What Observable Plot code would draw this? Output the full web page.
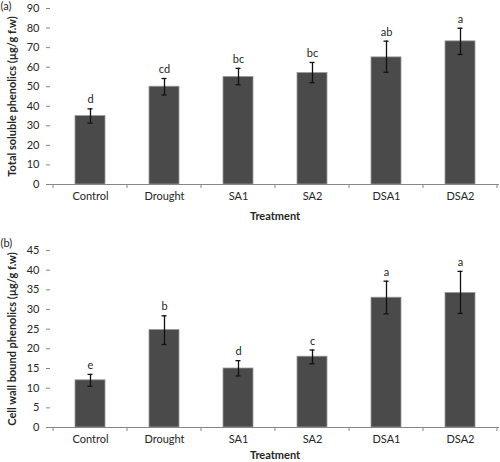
<!DOCTYPE html>
<html>
<head>
<meta charset="utf-8">
<script src="https://cdn.jsdelivr.net/npm/d3@7"></script>
<script src="https://cdn.jsdelivr.net/npm/@observablehq/plot@0.6"></script>
<style>
  body { margin: 0; background: #fff; }
  #chart { width: 500px; }
  #chart svg { display: block; }
</style>
</head>
<body>
<div id="chart"></div>
<script>
const treatments = ["Control", "Drought", "SA1", "SA2", "DSA1", "DSA2"];

// Panel (a): Total soluble phenolics
const solubleMean = [35, 50, 55, 57, 65, 73.2];
const solubleLow  = [31.4, 45.8, 51, 52.1, 57.4, 66.5];
const solubleHigh = [38.7, 54.2, 59.4, 62.4, 73.3, 79.9];
const solubleLetters = ["d", "cd", "bc", "bc", "ab", "a"];
const solubleTicks = [0, 10, 20, 30, 40, 50, 60, 70, 80, 90];

// Panel (b): Cell wall bound phenolics
const wallMean = [12, 24.8, 15, 18, 33, 34.2];
const wallLow  = [10.5, 21.1, 13.1, 16.2, 28.9, 29];
const wallHigh = [13.5, 28.4, 17, 19.7, 37.2, 39.7];
const wallLetters = ["e", "b", "d", "c", "a", "a"];
const wallTicks = [0, 5, 10, 15, 20, 25, 30, 35, 40, 45];

const FONT = "Lato, 'Liberation Sans', sans-serif";
const AXIS = "#878787";
const TXT = "#262626";

function panel({tag, ylabel, mean, low, high, letters, ticks, ymax, height, marginTop, marginBottom, tagDy, xlabDy}) {
  const rows = treatments.map((t, i) => ({t, v: mean[i], lo: low[i], hi: high[i], L: letters[i]}));
  const plot = Plot.plot({
    width: 500,
    height,
    marginLeft: 50,
    marginRight: 1,
    marginTop,
    marginBottom,
    style: {fontFamily: FONT, fontSize: "11px", color: TXT, background: "#fff"},
    x: {domain: treatments, paddingInner: 0.6, paddingOuter: 0.3, label: null},
    y: {domain: [0, ymax], label: null},
    marks: [
      Plot.barY(rows, {x: "t", y: "v", fill: "#4a4a4a", stroke: "#9a9a9a", strokeWidth: 0.8}),
      Plot.ruleX(rows, {x: "t", y1: "lo", y2: "hi", stroke: "#111", strokeWidth: 1.3}),
      Plot.tickY(rows, {x: "t", y: "lo", stroke: "#111", strokeWidth: 1.3, insetLeft: 12.5, insetRight: 12.5}),
      Plot.tickY(rows, {x: "t", y: "hi", stroke: "#111", strokeWidth: 1.3, insetLeft: 12.5, insetRight: 12.5}),
      Plot.text(rows, {x: "t", y: "hi", text: "L", dy: -9, fontSize: 11, fill: TXT}),
      Plot.axisY({ticks, tickSize: 4, tickPadding: 7, stroke: AXIS, fill: TXT, label: null, fontSize: 11}),
      Plot.ruleX([0], {frameAnchor: "left", stroke: AXIS}),
      Plot.ruleY([0], {stroke: AXIS}),
      Plot.axisX({tickSize: 0, tickPadding: 8, fill: TXT, label: null, fontSize: 11}),
      Plot.text([ylabel], {frameAnchor: "left", textAnchor: "middle", lineAnchor: "middle", rotate: -90, dx: -38, fontWeight: "bold", fontSize: 11, fill: TXT}),
      Plot.text(["Treatment"], {frameAnchor: "bottom", lineAnchor: "middle", dy: xlabDy, fontWeight: "bold", fontSize: 11, fill: TXT}),
      Plot.text([tag], {frameAnchor: "top-left", textAnchor: "start", lineAnchor: "middle", dx: -50, dy: tagDy, fontSize: 11, fill: TXT})
    ]
  });
  // boundary tick marks on the category axis, positioned from the x scale
  const xs = plot.scale("x");
  const ys = plot.scale("y");
  const y0 = ys.apply(0);
  const bounds = treatments.map(t => xs.apply(t) + xs.bandwidth / 2 + xs.step / 2);
  bounds.unshift(xs.apply(treatments[0]) + xs.bandwidth / 2 - xs.step / 2);
  const g = d3.select(plot).append("g").attr("stroke", AXIS);
  g.selectAll("line").data(bounds).join("line")
    .attr("x1", d => d).attr("x2", d => d)
    .attr("y1", y0).attr("y2", y0 + 4);
  return plot;
}

const root = document.getElementById("chart");
root.append(panel({
  tag: "(a)", ylabel: "Total soluble phenolics (µg/g f.w)",
  mean: solubleMean, low: solubleLow, high: solubleHigh, letters: solubleLetters,
  ticks: solubleTicks, ymax: 90, height: 230, marginTop: 8, marginBottom: 46, tagDy: -2, xlabDy: 32
}));
root.append(panel({
  tag: "(b)", ylabel: "Cell wall bound phenolics (µg/g f.w)",
  mean: wallMean, low: wallLow, high: wallHigh, letters: wallLetters,
  ticks: wallTicks, ymax: 45, height: 232, marginTop: 20, marginBottom: 35, tagDy: -7, xlabDy: 28
}));
</script>
</body>
</html>
